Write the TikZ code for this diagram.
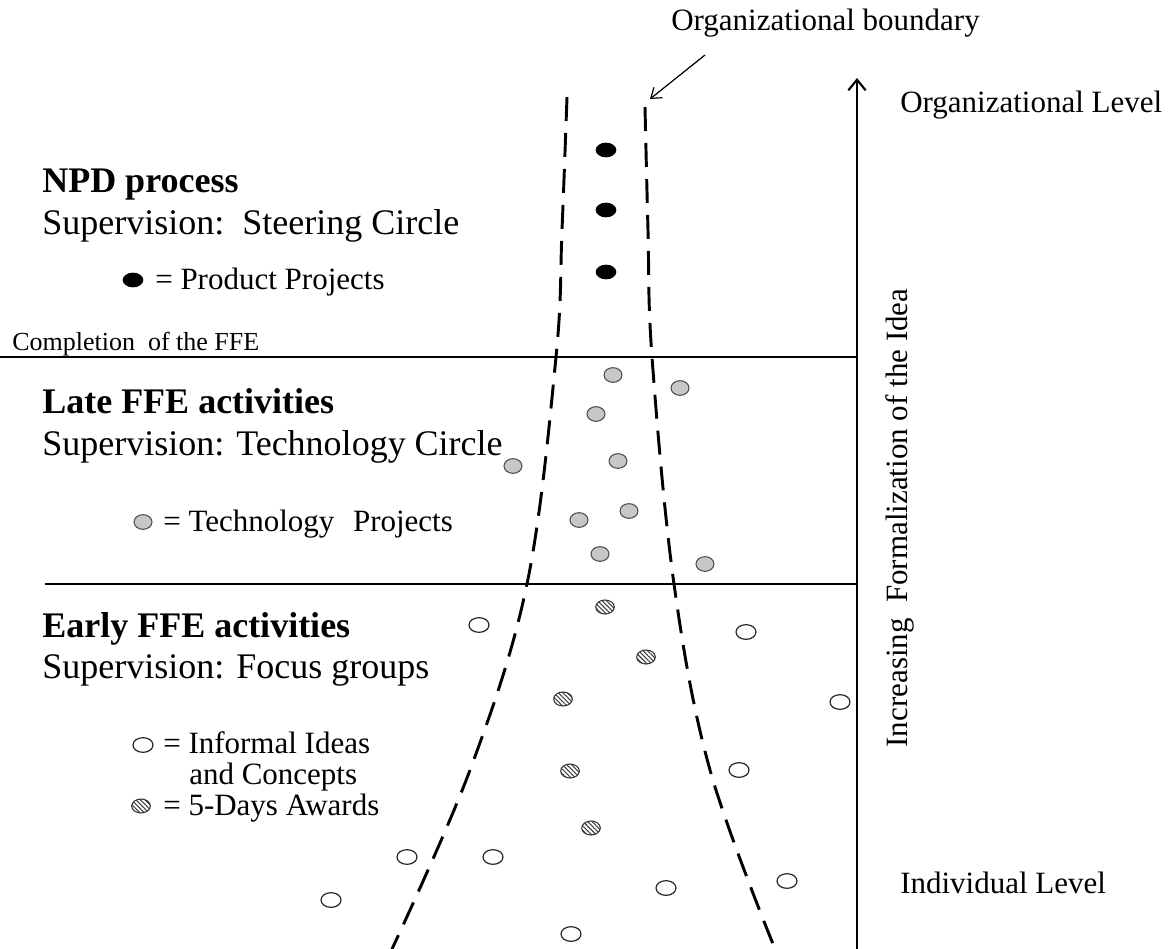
\documentclass[tikz,border=0pt]{standalone}
\usepackage{fontspec}
\setmainfont{Liberation Serif}
\usetikzlibrary{arrows.meta,shapes.geometric,patterns.meta}
\begin{document}
\begin{tikzpicture}[x=0.75pt,y=-0.75pt,
  big/.style={font=\fontsize{27}{30}\selectfont, inner sep=0, anchor=base west},
  bigb/.style={font=\fontsize{27}{30}\selectfont\bfseries, inner sep=0, anchor=base west},
  mid/.style={font=\fontsize{23.25}{26}\selectfont, inner sep=0, anchor=base west},
  smalltxt/.style={font=\fontsize{19.5}{21}\selectfont, inner sep=0, anchor=base west},
  dot/.style={ellipse, inner sep=0, minimum width=15.5pt, minimum height=11pt, fill=black},
  tech/.style={ellipse, inner sep=0, minimum width=13.5pt, minimum height=11pt, fill=black!22, draw=black!70, line width=0.8pt},
  idea/.style={ellipse, inner sep=0, minimum width=15pt, minimum height=11pt, fill=white, draw=black!85, line width=0.9pt},
  award/.style={ellipse, inner sep=0, minimum width=14pt, minimum height=10.5pt, draw=black!80, line width=0.8pt, pattern={Lines[angle=-45,distance=2.4pt,line width=0.8pt]}, pattern color=black!75},
  bound/.style={line width=2.2pt, dash pattern=on 18pt off 9pt},
  sep/.style={line width=1.8pt},
  septhin/.style={line width=1.1pt},
]
\useasboundingbox (0,0) rectangle (1172,949);

% separators
\coordinate (l1a) at (0,357);
\coordinate (l1b) at (857,357);
\coordinate (l2a) at (45,584);
\coordinate (l2b) at (857,584);
\draw[sep] (l1a) -- (l1b);
\draw[septhin] (l2a) -- (l2b);

% vertical axis arrow
\coordinate (vb) at (857,949);
\coordinate (vt) at (857,78);
\draw[line width=1.6pt, -{Straight Barb[length=8pt,width=13pt,line width=1.6pt]}] (vb) -- (vt);

% organizational boundary
\draw[bound] plot[smooth, tension=0.6] coordinates {(567,97) (562,230) (556,357) (527,584) (470,770) (392,949)};
\draw[bound] plot[smooth, tension=0.6] coordinates {(645,107) (648,230) (652,357) (674,584) (710,770) (775,949)};

% labels top / right
\node[mid] (ob) at (671,31) {Organizational boundary};
\coordinate (bs) at (705,55);
\coordinate (bd) at (650,99);
\draw[line width=0.9pt, -{Straight Barb[length=7pt,width=10pt,line width=0.9pt]}] (bs) -- (bd);
\node[mid] (ol) at (900,113) {Organizational Level};
\node[mid] (il) at (900,893) {Individual Level};
\node[mid, rotate=90, anchor=base] (inc) at (907,518) {Increasing\ \ Formalization of the Idea};

% left texts
\node[bigb] (npd) at (42,192) {NPD process};
\node[big] (sup1) at (42,234) {Supervision:\ \ Steering Circle};
\node[dot] (lg1) at (133,280) {};
\node[mid] (lt1) at (155,289) {= Product Projects};
\node[smalltxt] (comp) at (12,350) {Completion\ \ of the FFE};
\node[bigb] (late) at (42,413) {Late FFE activities};
\node[big] (sup2) at (42,455) {Supervision: Technology Circle};
\node[tech] (lg2) at (143,522) {};
\node[mid] (lt2) at (163,531) {= Technology\hspace{0.6em}Projects};
\node[bigb] (early) at (42,637) {Early FFE activities};
\node[big] (sup3) at (42,678) {Supervision: Focus groups};
\node[idea] (lg3) at (143,745) {};
\node[mid] (lt3) at (163,753) {= Informal Ideas};
\node[mid] (lt3b) at (189,784) {and Concepts};
\node[award] (lg4) at (141,806) {};
\node[mid] (lt4) at (163,815) {= 5-Days Awards};

% product projects
\node[dot] (p1) at (606,150) {};
\node[dot] (p2) at (606,210) {};
\node[dot] (p3) at (606,272) {};

% technology projects
\node[tech] (t1) at (613,375) {};
\node[tech] (t2) at (680,388) {};
\node[tech] (t3) at (596,414) {};
\node[tech] (t4) at (618,461) {};
\node[tech] (t5) at (513,466) {};
\node[tech] (t6) at (579,520) {};
\node[tech] (t7) at (629,511) {};
\node[tech] (t8) at (600,554) {};
\node[tech] (t9) at (705,564) {};

% 5-days awards
\node[award] (a1) at (605,607) {};
\node[award] (a2) at (646,657) {};
\node[award] (a3) at (563,699) {};
\node[award] (a4) at (570,771) {};
\node[award] (a5) at (591,828) {};

% informal ideas
\node[idea] (i1) at (479,625) {};
\node[idea] (i2) at (746,632) {};
\node[idea] (i3) at (840,702) {};
\node[idea] (i4) at (739,770) {};
\node[idea] (i5) at (407,857) {};
\node[idea] (i6) at (493,857) {};
\node[idea] (i7) at (666,888) {};
\node[idea] (i8) at (787,881) {};
\node[idea] (i9) at (331,900) {};
\node[idea] (i10) at (571,934) {};
\end{tikzpicture}
\end{document}
